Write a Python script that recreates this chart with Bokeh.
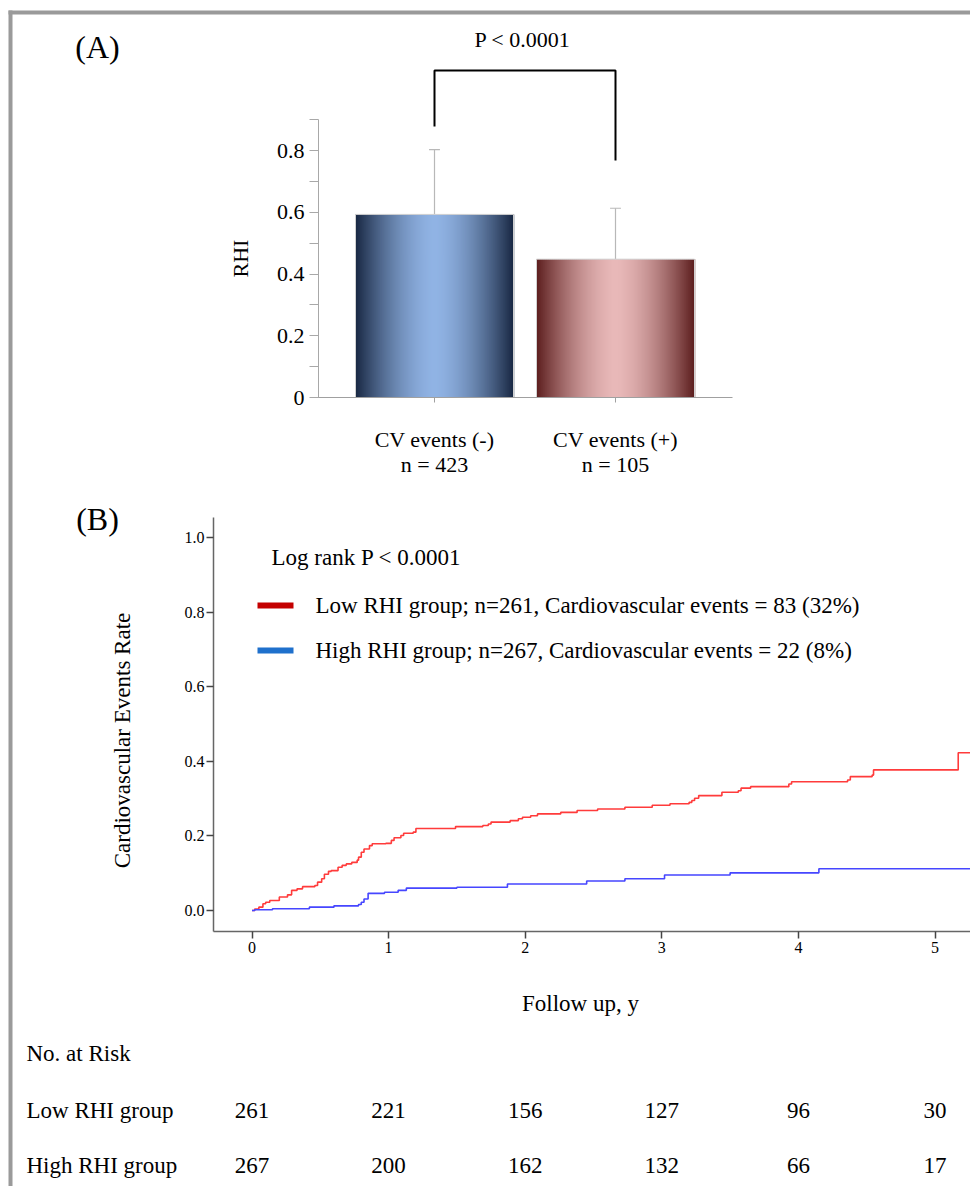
import numpy as np
from bokeh.plotting import figure
from bokeh.models import Label, FixedTicker, LinearAxis, Range1d
from bokeh.core.properties import value
from bokeh.embed import file_html
from bokeh.resources import INLINE

# ---------------- data ----------------
groups = ["CV events (-)", "CV events (+)"]
group_n = ["n = 423", "n = 105"]
rhi_mean = [0.593, 0.448]
rhi_sd = [0.210, 0.165]
p_text = "P < 0.0001"

low_t = [0.00, 0.02, 0.05, 0.08, 0.10, 0.13, 0.20, 0.26, 0.29, 0.33, 0.37, 0.46, 0.48, 0.51, 0.53,
         0.56, 0.58, 0.63, 0.66, 0.69, 0.73, 0.77, 0.78, 0.80, 0.82, 0.86, 0.88, 0.98, 1.02, 1.04,
         1.09, 1.11, 1.18, 1.20, 1.49, 1.69, 1.73, 1.75, 1.89, 1.95, 1.98, 2.04, 2.09, 2.26, 2.38,
         2.53, 2.73, 2.93, 3.06, 3.20, 3.22, 3.24, 3.27, 3.44, 3.56, 3.58, 3.65, 3.93, 3.95, 4.36,
         4.38, 4.54, 4.55, 5.17, 5.40]
low_v = [0.000, 0.004, 0.009, 0.018, 0.022, 0.027, 0.036, 0.042, 0.054, 0.058, 0.064, 0.067, 0.076,
         0.085, 0.097, 0.105, 0.107, 0.116, 0.121, 0.125, 0.129, 0.135, 0.143, 0.156, 0.165, 0.174,
         0.179, 0.180, 0.188, 0.195, 0.201, 0.207, 0.210, 0.220, 0.225, 0.228, 0.232, 0.237, 0.241,
         0.246, 0.250, 0.254, 0.259, 0.263, 0.268, 0.272, 0.277, 0.282, 0.286, 0.290, 0.295, 0.301,
         0.308, 0.317, 0.321, 0.328, 0.332, 0.339, 0.345, 0.350, 0.359, 0.363, 0.377, 0.423, 0.423]
high_t = [0.00, 0.02, 0.15, 0.42, 0.60, 0.78, 0.80, 0.82, 0.85, 0.97, 1.07, 1.13, 1.50, 1.87, 2.45,
          2.73, 3.02, 3.50, 4.15, 5.40]
high_v = [0.000, 0.002, 0.0045, 0.009, 0.0125, 0.016, 0.022, 0.031, 0.046, 0.049, 0.054, 0.060,
          0.0625, 0.071, 0.079, 0.085, 0.095, 0.101, 0.112, 0.112]

km_xticks = [0, 1, 2, 3, 4, 5]
km_yticks = [0.0, 0.2, 0.4, 0.6, 0.8, 1.0]
km_ylabels = ["0.0", "0.2", "0.4", "0.6", "0.8", "1.0"]
rhi_yticks = [0.0, 0.2, 0.4, 0.6, 0.8]
rhi_ylabels = ["0", "0.2", "0.4", "0.6", "0.8"]
rhi_minor = [0.1, 0.3, 0.5, 0.7, 0.9]

risk_years = [0, 1, 2, 3, 4, 5]
risk_low = [261, 221, 156, 127, 96, 30]
risk_high = [267, 200, 162, 132, 66, 17]
risk_rows = ["Low RHI group", "High RHI group"]
legend_low = "Low RHI group; n=261, Cardiovascular events = 83 (32%)"
legend_high = "High RHI group; n=267, Cardiovascular events = 22 (8%)"
legend_colors = ["#c40000", "#1f70cc"]
logrank = "Log rank P < 0.0001"

# ---------------- style / layout ----------------
FONT = "Liberation Serif"
BORDER = "#9a9a9a"
W, H = 970, 1186

# panel A geometry (pixels)
A_X1, A_PXX = 434.0, 181.0      # category 1 at x=434, 181 px per unit
A_Y0, A_PXY = 397.0, 308.75     # RHI 0 at y=397
A_AXIS_X = 318.0
# panel B geometry
B_X0, B_PXX = 251.5, 136.6
B_Y0, B_PXY = 910.0, 373.0
B_AXIS_X, B_AXIS_Y = 213.0, 931.0


def A_x(px): return 1 + (px - A_X1) / A_PXX
def A_y(py): return (A_Y0 - py) / A_PXY
def B_x(px): return (px - B_X0) / B_PXX
def B_y(py): return (B_Y0 - py) / B_PXY


p = figure(width=W, height=H, output_backend="svg", toolbar_location=None,
           x_range=Range1d(0, W), y_range=Range1d(H, 0),
           x_axis_type=None, y_axis_type=None, min_border=0,
           min_border_left=0, min_border_right=0, min_border_top=0, min_border_bottom=0,
           outline_line_color=None)
p.extra_x_ranges = {"ax": Range1d(A_x(0), A_x(W)), "bx": Range1d(B_x(0), B_x(W))}
p.extra_y_ranges = {"ay": Range1d(A_y(H), A_y(0)), "by": Range1d(B_y(H), B_y(0))}

# page frame (grey border on top and left)
p.quad(left=[8, 8], right=[W, 12], top=[10, 10], bottom=[14, H],
       fill_color=BORDER, line_color=None)

# ================= Panel A =================
xpos = [1, 2]
bar_w = 158.0 / A_PXX
grad = [((0x18, 0x27, 0x42), (0x90, 0xb3, 0xe4)),
        ((0x5c, 0x1e, 0x1e), (0xe8, 0xb8, 0xb8))]
nstrip = 79
L, R, T, C = [], [], [], []
for cx, m, (dk, lt) in zip(xpos, rhi_mean, grad):
    dk = np.array(dk, float); lt = np.array(lt, float)
    edges = np.linspace(cx - bar_w / 2, cx + bar_w / 2, nstrip + 1)
    for k in range(nstrip):
        mid = (k + 0.5) / nstrip
        f = (abs(mid - 0.5) / 0.5) ** 1.6
        c = lt * (1 - f) + dk * f
        L.append(edges[k]); R.append(edges[k + 1] + 0.004); T.append(m)
        C.append("#%02x%02x%02x" % tuple(int(round(v)) for v in c))

tops = [m + s for m, s in zip(rhi_mean, rhi_sd)]
cap = 0.03
p.segment(x0=xpos, y0=rhi_mean, x1=xpos, y1=tops, line_color="#b8b8b8", line_width=1.2,
          x_range_name="ax", y_range_name="ay")
p.segment(x0=[x - cap for x in xpos], x1=[x + cap for x in xpos], y0=tops, y1=tops,
          line_color="#b8b8b8", line_width=1.2, x_range_name="ax", y_range_name="ay")
p.quad(left=L, right=R, bottom=0, top=T, fill_color=C, line_color=None,
       x_range_name="ax", y_range_name="ay")
p.quad(left=[x - bar_w / 2 for x in xpos], right=[x + bar_w / 2 for x in xpos], bottom=0,
       top=rhi_mean, fill_color=None, line_color="#d0d0d0", line_width=1,
       x_range_name="ax", y_range_name="ay")

# significance bracket
br_top, br_left, br_right = 1.059, 0.878, 0.768
p.line(x=[xpos[0], xpos[0], xpos[1], xpos[1]], y=[br_left, br_top, br_top, br_right],
       line_color="black", line_width=2, x_range_name="ax", y_range_name="ay")

axA = LinearAxis(x_range_name="ax", y_range_name="ay", fixed_location=0,
                 ticker=FixedTicker(ticks=xpos),
                 major_label_overrides={x: f"{g}\n{n}" for x, g, n in zip(xpos, groups, group_n)},
                 bounds=(A_x(312), A_x(732)),
                 axis_line_color="#a0a0a0", major_tick_line_color="#a0a0a0",
                 major_tick_out=5, major_tick_in=0, minor_tick_line_color=None,
                 major_label_text_font=FONT, major_label_text_font_size="22px",
                 major_label_text_color="black", major_label_text_line_height=1.0,
                 major_label_standoff=24)
p.add_layout(axA, "below")

ayA = LinearAxis(x_range_name="ax", y_range_name="ay", fixed_location=A_x(A_AXIS_X),
                 ticker=FixedTicker(ticks=rhi_yticks, minor_ticks=rhi_minor),
                 major_label_overrides=dict(zip(rhi_yticks, rhi_ylabels)),
                 bounds=(0, 0.9),
                 axis_line_color="#a8a8a8", major_tick_line_color="#a8a8a8",
                 minor_tick_line_color="#a8a8a8", major_tick_out=9, minor_tick_out=9,
                 major_tick_in=0, minor_tick_in=0,
                 major_label_text_font=FONT, major_label_text_font_size="22px",
                 major_label_text_color="black", major_label_standoff=5)
p.add_layout(ayA, "left")


def lab(x, y, text, size="22px", align="left", angle=0):
    p.add_layout(Label(x=x, y=y, text=text, text_align=align, text_baseline="middle",
                       angle=angle, text_font=FONT, text_font_size=size, text_color="black"))


lab(97, 46, "(A)", "32px", "center")
lab(522, 39, p_text, "22px", "center")
lab(240, 258, "RHI", "22px", "center", np.pi / 2)

# ================= Panel B =================
p.step(x=low_t, y=low_v, mode="after", line_color="#ff3b3b", line_width=1.6,
       x_range_name="bx", y_range_name="by")
p.step(x=high_t, y=high_v, mode="after", line_color="#4646ff", line_width=1.6,
       x_range_name="bx", y_range_name="by")

axB = LinearAxis(x_range_name="bx", y_range_name="by", fixed_location=B_y(B_AXIS_Y),
                 ticker=FixedTicker(ticks=km_xticks), bounds=(B_x(B_AXIS_X), B_x(W)),
                 axis_line_color="#666666", axis_line_width=1.5,
                 major_tick_line_color="#444444", major_tick_line_width=1.5,
                 major_tick_out=7, major_tick_in=0, minor_tick_line_color=None,
                 major_label_text_font=FONT, major_label_text_font_size="16px",
                 major_label_text_color="black", major_label_standoff=3)
p.add_layout(axB, "below")

ayB = LinearAxis(x_range_name="bx", y_range_name="by", fixed_location=B_x(B_AXIS_X),
                 ticker=FixedTicker(ticks=km_yticks),
                 major_label_overrides=dict(zip(km_yticks, km_ylabels)),
                 bounds=(B_y(B_AXIS_Y), B_y(517)),
                 axis_line_color="#666666", axis_line_width=1.5,
                 major_tick_line_color="#444444", major_tick_line_width=1.5,
                 major_tick_out=7, major_tick_in=0, minor_tick_line_color=None,
                 major_label_text_font=FONT, major_label_text_font_size="16px",
                 major_label_text_color="black", major_label_standoff=2)
p.add_layout(ayB, "left")

# legend (swatches + labels)
leg_y = [605, 650]
p.segment(x0=[257, 257], x1=[293, 293], y0=leg_y, y1=leg_y, line_color=legend_colors,
          line_width=6)
lab(315, leg_y[0], legend_low, "23px", "left")
lab(315, leg_y[1], legend_high, "23px", "left")

lab(97, 518, "(B)", "32px", "center")
lab(271, 557, logrank, "23px", "left")
lab(122, 740, "Cardiovascular Events Rate", "23px", "center", np.pi / 2)
lab(580, 1003, "Follow up, y", "23px", "center")

# risk table
row_y = [1110, 1165]
lab(26, 1053, "No. at Risk", "23px", "left")
lab(26, row_y[0], risk_rows[0], "23px", "left")
lab(26, row_y[1], risk_rows[1], "23px", "left")
p.text(x=risk_years + risk_years, y=[row_y[0]] * len(risk_years) + [row_y[1]] * len(risk_years),
       text=[str(v) for v in risk_low] + [str(v) for v in risk_high],
       text_align="center", text_baseline="middle", text_font=value(FONT),
       text_font_size=value("23px"), text_color="black", x_range_name="bx")

open("out.html", "w").write(file_html(p, INLINE))
